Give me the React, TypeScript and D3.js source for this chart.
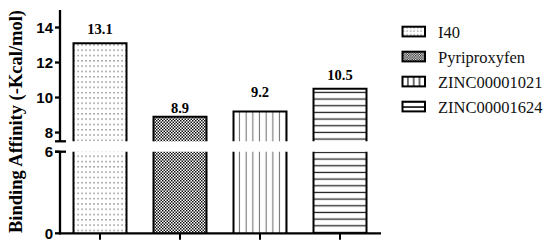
import React from "react";
import * as d3 from "d3";

const categories = ["I40", "Pyriproxyfen", "ZINC00001021", "ZINC00001624"];
const values = [13.1, 8.9, 9.2, 10.5];
const valueLabels = ["13.1", "8.9", "9.2", "10.5"];
const upperTicks = [8, 10, 12, 14];
const lowerTicks = [0, 6];
const upperDomain = [7.5, 15];
const lowerDomain = [0, 6];
const yTitle = "Binding Affinity (-Kcal/mol)";

const W = 550;
const H = 246;

export default function App() {
  const x = d3
    .scaleBand<string>()
    .domain(categories)
    .range([60, 380])
    .paddingInner(0.3375)
    .paddingOuter(0.16875);
  const yU = d3.scaleLinear().domain(upperDomain).range([141.3, 10]);
  const yL = d3.scaleLinear().domain(lowerDomain).range([233.3, 151.7]);
  const bw = x.bandwidth();
  const patIds = ["pDots", "pCheck", "pVert", "pHorz"];
  const legIds = ["lDots", "lCheck", "lVert", "lHorz"];
  const labelGap = [9.4, 4, 15, 8.6];
  const axisX = 60;
  const sans = "'Liberation Sans', Arial, sans-serif";
  const serif = "'Liberation Serif', 'Times New Roman', serif";

  return (
    <svg
      width={W}
      height={H}
      style={{ position: "absolute", left: 0, top: 0, background: "#fff" }}
    >
      <defs>
        <pattern id="pDots" patternUnits="userSpaceOnUse" width={4} height={5.3}>
          <rect width={4} height={5.3} fill="#fff" />
          <rect x={1.5} y={2} width={1.1} height={1.1} fill="#333" />
        </pattern>
        <pattern id="pCheck" patternUnits="userSpaceOnUse" width={3} height={3}>
          <rect width={3} height={3} fill="#fff" />
          <rect x={0} y={0} width={1.5} height={1.5} fill="#111" />
          <rect x={1.5} y={1.5} width={1.5} height={1.5} fill="#111" />
        </pattern>
        <pattern
          id="pVert"
          patternUnits="userSpaceOnUse"
          width={6.67}
          height={10}
          x={x(categories[2])! + 2.7}
        >
          <rect width={6.67} height={10} fill="#fff" />
          <line x1={3.3} x2={3.3} y1={0} y2={10} stroke="#777" strokeWidth={1.1} />
        </pattern>
        <pattern
          id="pHorz"
          patternUnits="userSpaceOnUse"
          width={10}
          height={6.67}
          y={yU(values[3]) + 0.3}
        >
          <rect width={10} height={6.67} fill="#fff" />
          <line x1={0} x2={10} y1={3.3} y2={3.3} stroke="#222" strokeWidth={1.3} />
        </pattern>
        <pattern id="lDots" patternUnits="userSpaceOnUse" width={3.5} height={3.5} x={402} y={26}>
          <rect width={3.5} height={3.5} fill="#fff" />
          <rect x={1.2} y={1.2} width={1} height={1} fill="#333" />
        </pattern>
        <pattern id="lCheck" patternUnits="userSpaceOnUse" width={2.4} height={2.4}>
          <rect width={2.4} height={2.4} fill="#fff" />
          <rect x={0} y={0} width={1.2} height={1.2} fill="#111" />
          <rect x={1.2} y={1.2} width={1.2} height={1.2} fill="#111" />
        </pattern>
        <pattern id="lVert" patternUnits="userSpaceOnUse" width={5.8} height={10} x={405}>
          <rect width={5.8} height={10} fill="#fff" />
          <line x1={2.9} x2={2.9} y1={0} y2={10} stroke="#222" strokeWidth={1.3} />
        </pattern>
        <pattern id="lHorz" patternUnits="userSpaceOnUse" width={10} height={5.5} y={104.3}>
          <rect width={10} height={5.5} fill="#fff" />
          <line x1={0} x2={10} y1={2.75} y2={2.75} stroke="#111" strokeWidth={1.6} />
        </pattern>
      </defs>

      {/* Bars */}
      {categories.map((c, i) => {
        const bx = x(c)!;
        const top = yU(values[i]);
        const ub = yU(upperDomain[0]);
        const lt = yL(lowerDomain[1]);
        const lb = yL(0);
        return (
          <g key={c}>
            <rect x={bx} y={top} width={bw} height={ub - top} fill={`url(#${patIds[i]})`} />
            <path
              d={`M${bx},${ub}V${top}H${bx + bw}V${ub}`}
              fill="none"
              stroke="#000"
              strokeWidth={2}
            />
            <rect x={bx} y={lt} width={bw} height={lb - lt} fill={`url(#${patIds[i]})`} />
            <path
              d={`M${bx},${lt}V${lb}M${bx + bw},${lt}V${lb}`}
              fill="none"
              stroke="#000"
              strokeWidth={2}
            />
            <text
              x={bx + bw / 2}
              y={top - labelGap[i]}
              textAnchor="middle"
              fontFamily={serif}
              fontWeight="bold"
              fontSize={14.5}
              fill="#000"
            >
              {valueLabels[i]}
            </text>
          </g>
        );
      })}

      {/* Y axis upper */}
      <line x1={axisX} x2={axisX} y1={yU(upperDomain[1])} y2={yU(upperDomain[0])} stroke="#000" strokeWidth={2.3} />
      <line x1={55} x2={66} y1={yU(upperDomain[0])} y2={yU(upperDomain[0])} stroke="#000" strokeWidth={2.3} />
      {upperTicks.map((t) => (
        <g key={"u" + t}>
          <line x1={55} x2={axisX} y1={yU(t)} y2={yU(t)} stroke="#000" strokeWidth={2.3} />
          <text
            x={53}
            y={yU(t)}
            dy="0.36em"
            textAnchor="end"
            fontFamily={sans}
            fontWeight="bold"
            fontSize={15}
          >
            {t}
          </text>
        </g>
      ))}
      {/* Y axis lower */}
      <line x1={axisX} x2={axisX} y1={yL(lowerDomain[1])} y2={yL(0) + 1.1} stroke="#000" strokeWidth={2.3} />
      <line x1={55} x2={66} y1={yL(lowerDomain[1])} y2={yL(lowerDomain[1])} stroke="#000" strokeWidth={2.3} />
      {lowerTicks.map((t) => (
        <g key={"l" + t}>
          <line x1={55} x2={axisX} y1={yL(t)} y2={yL(t)} stroke="#000" strokeWidth={2.3} />
          <text
            x={53}
            y={yL(t)}
            dy="0.36em"
            textAnchor="end"
            fontFamily={sans}
            fontWeight="bold"
            fontSize={15}
          >
            {t}
          </text>
        </g>
      ))}

      {/* X axis */}
      <line x1={axisX - 1} x2={381} y1={yL(0)} y2={yL(0)} stroke="#000" strokeWidth={2.3} />
      {categories.map((c) => (
        <line
          key={"xt" + c}
          x1={x(c)! + bw / 2}
          x2={x(c)! + bw / 2}
          y1={yL(0)}
          y2={yL(0) + 6.5}
          stroke="#000"
          strokeWidth={2}
        />
      ))}

      {/* Y title */}
      <text
        transform="translate(21.5,121.5) rotate(-90)"
        textAnchor="middle"
        fontFamily={serif}
        fontWeight="bold"
        fontSize={18.5}
        textLength={223}
        lengthAdjust="spacingAndGlyphs"
      >
        {yTitle}
      </text>

      {/* Legend */}
      {categories.map((c, i) => {
        const ty = 26.7 + i * 25;
        return (
          <g key={"lg" + c}>
            <rect
              x={402.5}
              y={ty}
              width={22.5}
              height={9.7}
              fill={`url(#${legIds[i]})`}
              stroke="#000"
              strokeWidth={2}
            />
            <text x={438} y={ty + 11.6} fontFamily={serif} fontSize={16.5} fill="#111">
              {c}
            </text>
          </g>
        );
      })}
    </svg>
  );
}
